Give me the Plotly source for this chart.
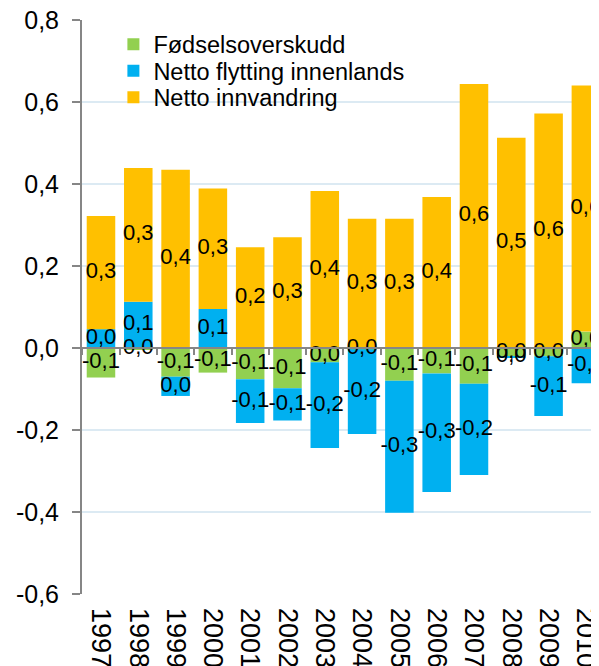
import plotly.graph_objects as go

years = ["1997", "1998", "1999", "2000", "2001", "2002", "2003",
         "2004", "2005", "2006", "2007", "2008", "2009", "2010"]
fodselsoverskudd = [-0.072, -0.004, -0.070, -0.060, -0.076, -0.098, -0.035,
                    -0.003, -0.080, -0.062, -0.087, -0.020, -0.020, 0.040]
netto_flytting = [0.046, 0.113, -0.047, 0.095, -0.107, -0.079, -0.209,
                  -0.207, -0.322, -0.289, -0.223, -0.003, -0.146, -0.086]
netto_innvandring = [0.276, 0.326, 0.435, 0.294, 0.246, 0.270, 0.383,
                     0.315, 0.315, 0.368, 0.644, 0.513, 0.572, 0.600]
y_tick_vals = [-0.6, -0.4, -0.2, 0.0, 0.2, 0.4, 0.6, 0.8]
y_tick_text = ["-0,6", "-0,4", "-0,2", "0,0", "0,2", "0,4", "0,6", "0,8"]

series = [
    ("Fødselsoverskudd", fodselsoverskudd, "#92D050", "legend"),
    ("Netto flytting innenlands", netto_flytting, "#00B0F0", "legend2"),
    ("Netto innvandring", netto_innvandring, "#FFC000", "legend3"),
]

FONT = "Arial, 'Liberation Sans', sans-serif"
xs = list(range(len(years)))


def fmt(v):
    r = round(v, 1)
    if r == 0:
        return "0,0"
    return f"{r:.1f}".replace(".", ",")


fig = go.Figure()
for name, vals, color, lg in series:
    fig.add_trace(go.Bar(x=xs, y=vals, name=name, marker_color=color,
                         marker_line_width=0, hoverinfo="skip", legend=lg))

# data labels centred on each stacked segment
pos_base = [0.0] * len(years)
neg_base = [0.0] * len(years)
lx, ly, lt = [], [], []
for name, vals, color, lg in series:
    for i, v in enumerate(vals):
        if v >= 0:
            c = pos_base[i] + v / 2
            pos_base[i] += v
        else:
            c = neg_base[i] + v / 2
            neg_base[i] += v
        lx.append(xs[i])
        ly.append(c)
        lt.append(fmt(v))
fig.add_trace(go.Scatter(x=lx, y=ly, text=lt, mode="text", xaxis="x2",
                         textposition="middle center",
                         textfont=dict(family=FONT, size=22, color="#000000"),
                         showlegend=False, hoverinfo="skip", cliponaxis=False))

xr = [-0.509, 13.566]
yr = [-0.6, 0.8]
zero_pos = (0 - yr[0]) / (yr[1] - yr[0])
boundaries = [i - 0.5 for i in range(len(years) + 1)]

legend_common = dict(x=0.0598, xanchor="left", yanchor="middle",
                     bgcolor="rgba(0,0,0,0)",
                     font=dict(family=FONT, size=23.5, color="#000000"),
                     itemwidth=30)

fig.update_layout(
    width=599, height=666,
    margin=dict(l=74, r=0, t=12, b=80, autoexpand=False),
    paper_bgcolor="white", plot_bgcolor="white",
    barmode="relative", bargap=0.235,
    font=dict(family=FONT, color="#000000"),
    showlegend=True,
    legend=dict(y=0.9573, **legend_common),
    legend2=dict(y=0.9111, **legend_common),
    legend3=dict(y=0.8650, **legend_common),
    xaxis=dict(range=xr, tickmode="array", tickvals=xs, ticktext=years,
               tickangle=90, showgrid=False, zeroline=False, showline=False,
               ticks="", tickfont=dict(family=FONT, size=27, color="#000000"),
               ticklabelstandoff=13, automargin=False,
               ticklabeloverflow="allow"),
    xaxis2=dict(range=xr, overlaying="x", anchor="free", position=zero_pos,
                side="bottom", showline=True, linecolor="#868686", linewidth=2,
                ticks="outside", ticklen=6, tickwidth=2, tickcolor="#868686",
                tickmode="array", tickvals=boundaries, showticklabels=False,
                showgrid=False, zeroline=False, automargin=False),
    yaxis=dict(range=yr, tickmode="array", tickvals=y_tick_vals,
               ticktext=y_tick_text, showgrid=True, gridcolor="#DCEAF3",
               gridwidth=2, zeroline=False, showline=True,
               linecolor="#868686", linewidth=2, ticks="outside", ticklen=8,
               tickwidth=2, tickcolor="#868686",
               tickfont=dict(family=FONT, size=25, color="#000000"),
               ticklabelstandoff=8, automargin=False,
               ticklabeloverflow="allow"),
)

fig.write_html("out.html")
